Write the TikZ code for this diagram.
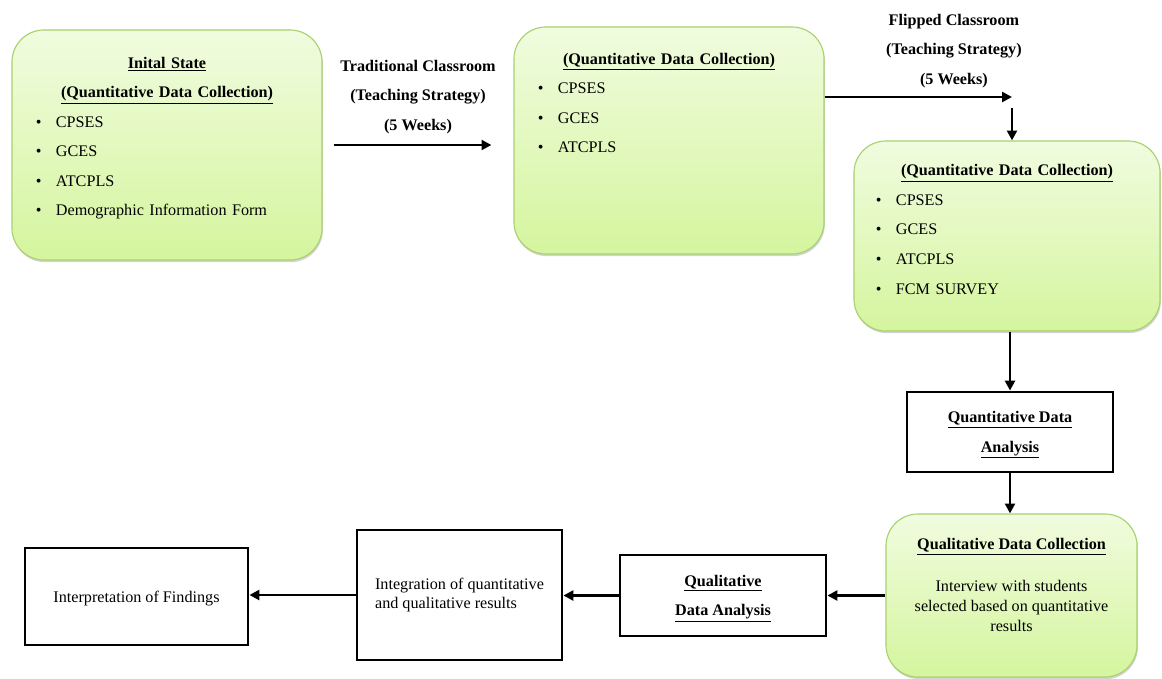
\documentclass[tikz,border=0pt]{standalone}
\usepackage{fontspec}
\setmainfont{Liberation Serif}
\usetikzlibrary{arrows.meta,positioning,shadows}
\definecolor{leaftop}{HTML}{F0FCDF}
\definecolor{leafbot}{HTML}{D5F59E}
\definecolor{leafline}{HTML}{A9D16F}
\newcommand{\ttl}[1]{\underline{\textbf{#1}}}
\newcommand{\bul}[1]{\makebox[0.5cm][l]{\textbullet}#1}
\newcommand{\centred}[1]{\makebox[\hsize][c]{#1}}
\tikzset{
	stage/.style={draw=leafline,line width=0.8pt,rounded corners=0.8cm,top color=leaftop,bottom color=leafbot,
		drop shadow={opacity=0.35,shadow xshift=0.6pt,shadow yshift=-1.5pt},inner sep=0pt},
	items/.style={text width=6.55cm,align=left,inner sep=0pt,font=\fontsize{11.5}{21}\selectfont},
	plain/.style={draw,line width=2pt,inner sep=0pt,align=center,font=\fontsize{11.5}{21}\selectfont},
	lbl/.style={align=center,inner sep=0pt,font=\bfseries\fontsize{11.5}{21}\selectfont},
	arr/.style={-{Triangle[length=7pt,width=7pt]},line width=2pt}
}
\begin{document}
\begin{tikzpicture}[x=0.025cm,y=-0.025cm]
	\useasboundingbox (0,0) rectangle (1162,678);
	\node[stage,minimum width=7.75cm,minimum height=5.75cm] (init) at (167,145) {};
	\node[items,below=0.68cm of init.north] (initlist) {\centred{\ttl{Inital State}}\\ \centred{\ttl{(Quantitative Data Collection)}}\\ \bul{CPSES}\\ \bul{GCES}\\ \bul{ATCPLS}\\ \bul{Demographic Information Form}};
	\node[stage,minimum width=7.75cm,minimum height=5.675cm] (post1) at (669,140.5) {};
	\node[items,below=0.66cm of post1.north] (post1list) {\centred{\ttl{(Quantitative Data Collection)}}\\ \bul{CPSES}\\ \bul{GCES}\\ \bul{ATCPLS}};
	\node[stage,minimum width=7.65cm,minimum height=4.75cm] (post2) at (1007,236) {};
	\node[items,below=0.6cm of post2.north] (post2list) {\centred{\ttl{(Quantitative Data Collection)}}\\ \bul{CPSES}\\ \bul{GCES}\\ \bul{ATCPLS}\\ \bul{FCM SURVEY}};
	\node[plain,minimum width=5.15cm,minimum height=2cm] (quanan) at (1010,432) {\rule{0pt}{12pt}\ttl{Quantitative Data}\\ \ttl{Analysis}};
	\node[stage,minimum width=6.275cm,minimum height=4.075cm] (qualcol) at (1011.5,595.5) {};
	\node[below=0.62cm of qualcol.north,align=center,inner sep=0pt,font=\fontsize{11.5}{14}\selectfont] (qualtxt) {\ttl{Qualitative Data Collection}\\[16pt] Interview with students\\ selected based on quantitative\\ results};
	\node[plain,minimum width=5.15cm,minimum height=2.025cm] (qualan) at (723,595.5) {\rule{0pt}{12pt}\ttl{Qualitative}\\ \ttl{Data Analysis}};
	\node[plain,align=left,font=\fontsize{11.5}{14}\selectfont,minimum width=5.125cm,minimum height=3.25cm] (integ) at (459.5,595) {Integration of quantitative\\ and qualitative results};
	\node[plain,minimum width=5.575cm,minimum height=2.425cm] (interp) at (136.5,596.5) {\rule{0pt}{11pt}Interpretation of Findings};
	\coordinate (turn) at (1012,97);
	\draw[arr,shorten <=0.275cm,shorten >=0.55cm] (init.east) -- (init.east -| post1.west) node[lbl,midway,above=0.25cm] (trad) {Traditional Classroom\\ (Teaching Strategy)\\ (5 Weeks)};
	\draw[arr] (post1.east |- turn) -- (turn) node[lbl,pos=0.69,above=0.2cm] (flip) {Flipped Classroom\\ (Teaching Strategy)\\ (5 Weeks)};
	\draw[arr] ([yshift=-0.275cm]turn) -- (turn |- post2.north);
	\draw[arr] (post2.south -| quanan) -- (quanan.north);
	\draw[arr] (quanan.south) -- (quanan.south |- qualcol.north);
	\draw[arr] (qualcol.west) -- (qualan.east);
	\draw[arr] (qualan.west) -- (qualan.west -| integ.east);
	\draw[arr] (integ.west) -- (integ.west -| interp.east);
\end{tikzpicture}
\end{document}
